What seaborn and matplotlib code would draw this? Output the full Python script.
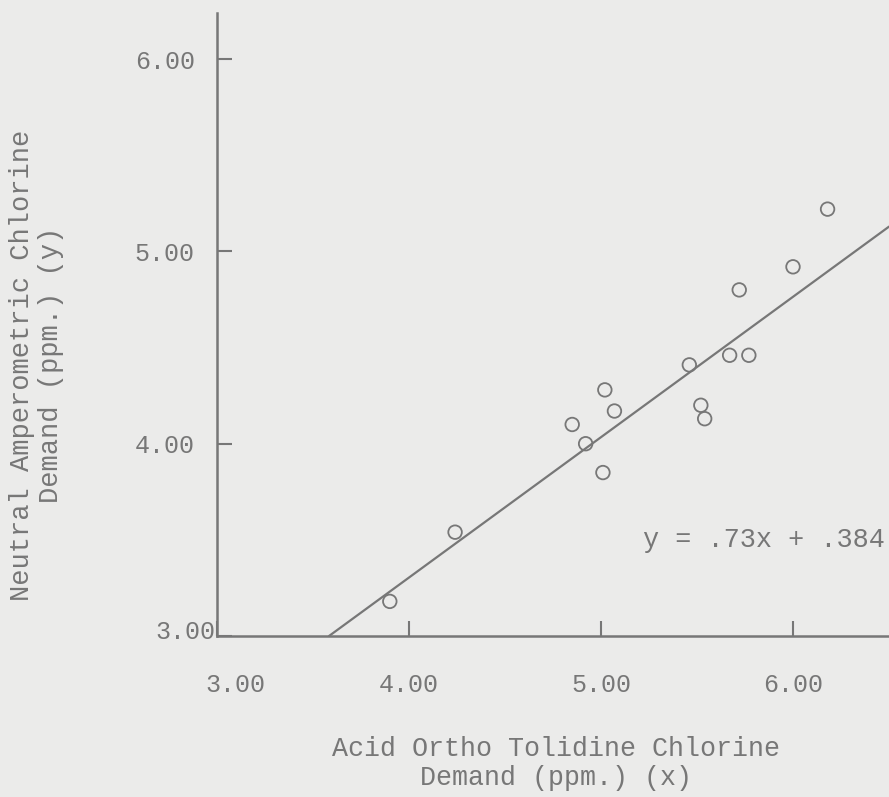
import matplotlib
matplotlib.use("Agg")
import matplotlib.pyplot as plt
import matplotlib.transforms as mtransforms
import numpy as np
import pandas as pd
import seaborn as sns

# data
acid_x = [3.90, 4.24, 4.85, 4.92, 5.02, 5.01, 5.07, 5.46, 5.52, 5.54, 5.67, 5.77, 5.72, 6.00, 6.18]
amp_y = [3.18, 3.54, 4.10, 4.00, 4.28, 3.85, 4.17, 4.41, 4.20, 4.13, 4.46, 4.46, 4.80, 4.92, 5.22]
slope = 0.73
intercept = 0.384
x_ticks = [3.0, 4.0, 5.0, 6.0]
y_ticks = [3.0, 4.0, 5.0, 6.0]
equation = "y = .73x + .384"

ink = "#777777"
paper = "#ebebea"

sns.set_style("white")
plt.rcParams['font.family'] = ['Liberation Mono', 'DejaVu Sans Mono']

fig = plt.figure(figsize=(8.89, 7.97), dpi=100, facecolor=paper)
ax = fig.add_axes([217/889, 161/797, 672/889, 623/797])
ax.set_facecolor(paper)

df = pd.DataFrame({"x": acid_x, "y": amp_y})
sns.scatterplot(data=df, x="x", y="y", ax=ax, s=95, facecolor="none",
                edgecolor=ink, linewidth=1.3, zorder=3)

x_lo, x_hi = 3.0, 6.5
fit_x = np.array([(3.0 - intercept) / slope, x_hi])
sns.lineplot(x=fit_x, y=slope * fit_x + intercept, ax=ax, color=ink, linewidth=1.6)

ax.set_xlim(x_lo, x_hi)
ax.set_ylim(3.0, 6.24)

for side in ["top", "right"]:
    ax.spines[side].set_visible(False)
for side in ["left", "bottom"]:
    ax.spines[side].set_color(ink)
    ax.spines[side].set_linewidth(1.8)

ax.set_xticks(x_ticks)
ax.set_yticks(y_ticks)
ax.set_xticklabels(["{:.2f}".format(v) for v in x_ticks])
ax.set_yticklabels(["{:.2f}".format(v) for v in y_ticks])
ax.tick_params(axis="both", direction="in", length=11, width=1.5, color=ink,
               labelcolor=ink, labelsize=18, bottom=True, left=True)
ax.tick_params(axis="x", pad=27)
ax.tick_params(axis="y", pad=16)

# the corner labels sit a little off on the typed original
ax.get_xticklabels()[0].set_transform(ax.get_xticklabels()[0].get_transform() +
                                      mtransforms.ScaledTranslation(0.18, 0, fig.dpi_scale_trans))
ax.get_yticklabels()[0].set_transform(ax.get_yticklabels()[0].get_transform() +
                                      mtransforms.ScaledTranslation(0.21, 0.06, fig.dpi_scale_trans))

ax.set_xlabel("Acid Ortho Tolidine Chlorine\nDemand (ppm.) (x)", fontsize=19.2,
              color=ink, linespacing=1.15, multialignment="center")
ax.xaxis.set_label_coords(0.505, -0.160)
ax.xaxis.label.set_va("top")
ax.set_ylabel("Neutral Amperometric Chlorine\nDemand (ppm.) (y)", fontsize=19.5,
              color=ink, linespacing=1.15, multialignment="center")
ax.yaxis.set_label_coords(-0.228, 0.435)

ax.text(5.22, 3.5, equation, fontsize=19.4, color=ink, ha="left", va="center")

fig.savefig("out.png", dpi=100, facecolor=paper)
